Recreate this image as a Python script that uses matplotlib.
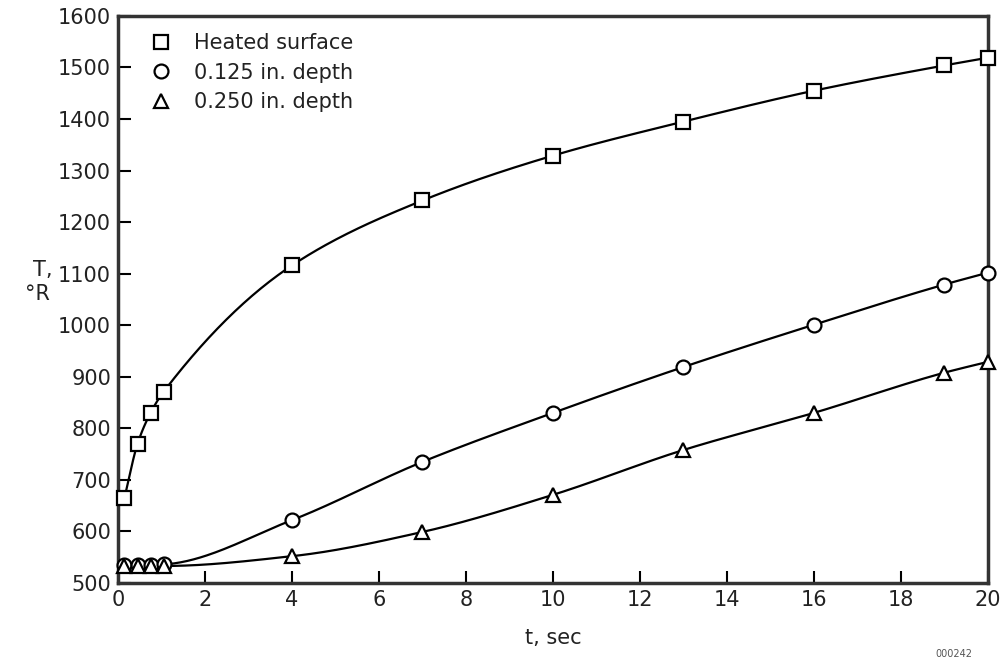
import matplotlib.pyplot as plt
import numpy as np

plt.rcParams['font.family'] = ['DejaVu Sans']

# temperature history, degrees Rankine
t = [0.15, 0.45, 0.75, 1.05, 4, 7, 10, 13, 16, 19, 20]
T_surf = [665, 770, 830, 871, 1116, 1242, 1329, 1395, 1455, 1504, 1519]
T_125 = [535, 535, 535, 536, 622, 735, 830, 919, 1001, 1079, 1102]
T_250 = [533, 533, 533, 533, 552, 599, 671, 758, 830, 908, 929]
labels = ['Heated surface', '0.125 in. depth', '0.250 in. depth']
markers = ['s', 'o', '^']


def pchip(x, y, xs):
    # monotone cubic through the points, only used to draw the smooth line
    x = np.asarray(x, float)
    y = np.asarray(y, float)
    h = np.diff(x)
    d = np.diff(y) / h
    m = np.zeros_like(y)
    for k in range(1, len(x) - 1):
        if d[k - 1] * d[k] > 0:
            w1 = 2 * h[k] + h[k - 1]
            w2 = h[k] + 2 * h[k - 1]
            m[k] = (w1 + w2) / (w1 / d[k - 1] + w2 / d[k])
    m[0] = d[0]
    m[-1] = d[-1]
    i = np.clip(np.searchsorted(x, xs) - 1, 0, len(h) - 1)
    s = (xs - x[i]) / h[i]
    h00 = 2 * s**3 - 3 * s**2 + 1
    h10 = s**3 - 2 * s**2 + s
    h01 = -2 * s**3 + 3 * s**2
    h11 = s**3 - s**2
    return h00 * y[i] + h10 * h[i] * m[i] + h01 * y[i + 1] + h11 * h[i] * m[i + 1]


fig = plt.figure(figsize=(10.03, 6.64), dpi=100)
ax = fig.add_axes([0.1176, 0.122, 0.8674, 0.854])

tt = np.linspace(t[0], t[-1], 400)
for T, lab, mk in zip([T_surf, T_125, T_250], labels, markers):
    ax.plot(tt, pchip(t, T, tt), color='black', lw=1.6, zorder=2)
    ms = 10 if mk != '^' else 10.5
    ax.plot(t, T, linestyle='none', marker=mk, ms=ms, mfc='white', mec='black',
            mew=1.6, label=lab, zorder=3, clip_on=False)

ax.set_xlim(0, 20)
ax.set_ylim(500, 1600)
ax.set_xticks(np.arange(0, 21, 2))
ax.set_yticks(np.arange(500, 1601, 100))
ax.tick_params(direction='in', length=9, width=1.5, labelsize=15, pad=5,
               labelcolor='#222222', top=False, right=False)
for sp in ax.spines.values():
    sp.set_linewidth(2.5)
    sp.set_color('#333333')

ax.set_xlabel('t, sec', fontsize=15, labelpad=13, color='#222222')
fig.text(0.043, 0.593, 'T,', fontsize=15, ha='center', va='center', color='#222222')
fig.text(0.037, 0.557, '\u00b0R', fontsize=15, ha='center', va='center', color='#222222')
fig.text(0.969, 0.01, '000242', fontsize=7, color='#555555', ha='right')

leg = ax.legend(loc='upper left', frameon=False, fontsize=15, handletextpad=1.0,
                borderaxespad=0.3, labelspacing=0.45, handlelength=1.2,
                bbox_to_anchor=(0.018, 0.995))
for txt in leg.get_texts():
    txt.set_color('#222222')

fig.savefig('out.png', dpi=100)
